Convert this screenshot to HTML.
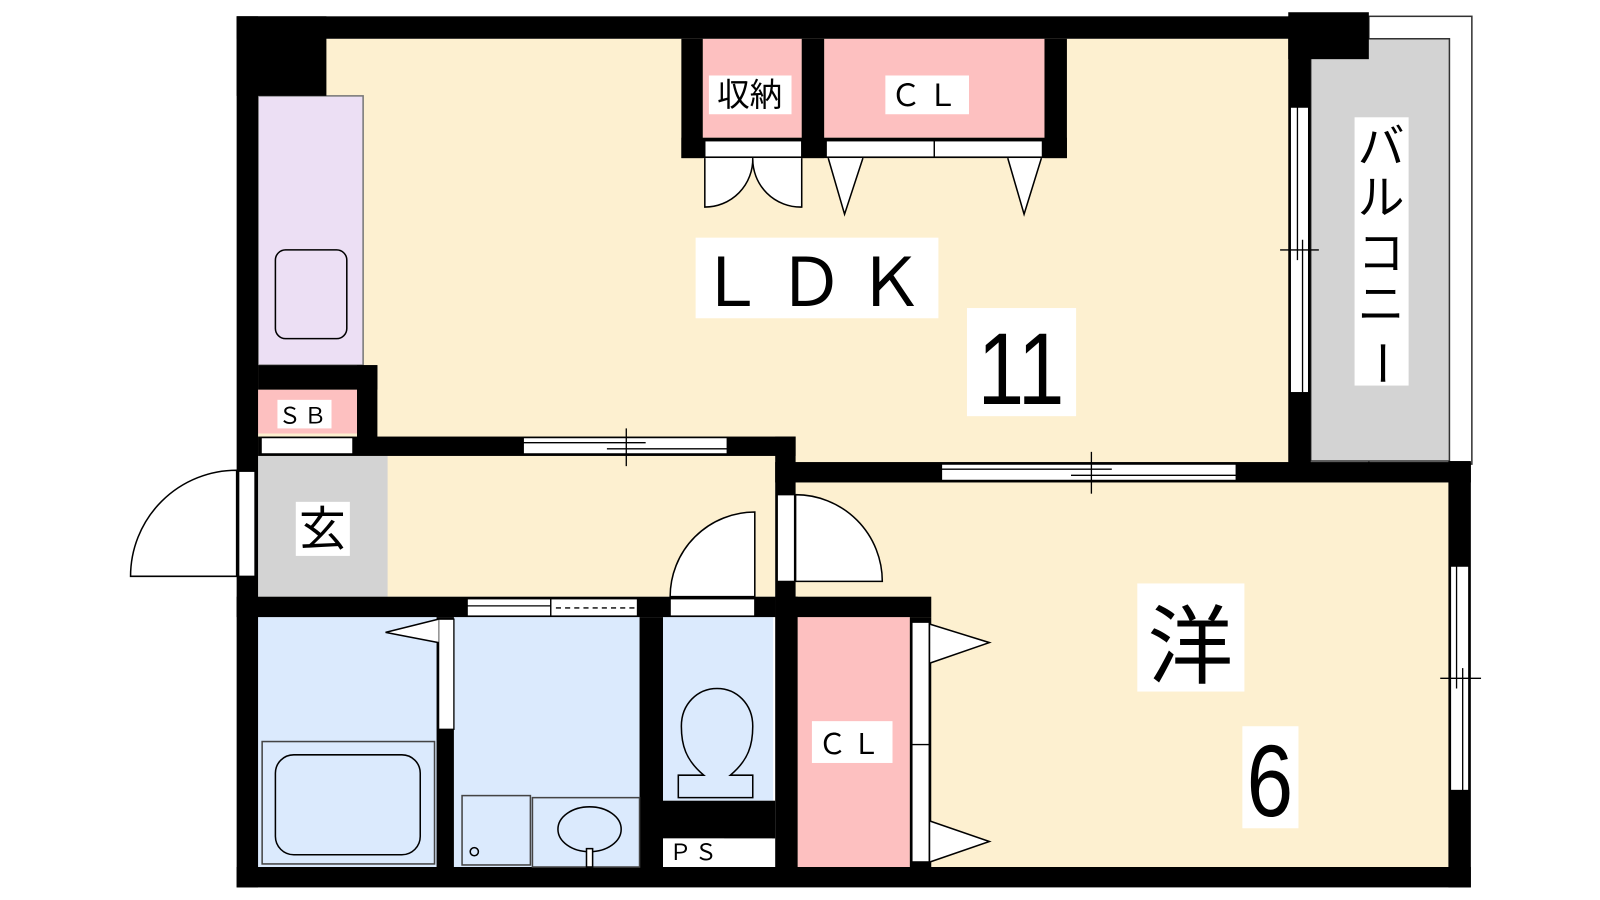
<!DOCTYPE html>
<html><head><meta charset="utf-8"><style>
html,body{margin:0;padding:0;background:#fff;width:1600px;height:900px;overflow:hidden}
svg{display:block}
text{font-family:"Liberation Sans","Noto Sans CJK JP",sans-serif;fill:#000}
</style></head><body>
<svg width="1600" height="900" viewBox="0 0 1600 900" xmlns="http://www.w3.org/2000/svg">
<g transform="scale(1.02)">
<!-- floors -->
<rect x="253" y="38" width="1012" height="417" fill="#fdf0d0"/>
<rect x="253" y="447" width="507" height="138" fill="#fdf0d0"/>
<rect x="253" y="447" width="127" height="138" fill="#d3d3d3"/>
<rect x="780" y="473" width="640" height="377" fill="#fdf0d0"/>
<!-- balcony -->
<rect x="1342" y="16" width="101" height="439" fill="#fff" stroke="#333" stroke-width="1.5"/>
<rect x="1285" y="38" width="136" height="414" fill="#d3d3d3" stroke="#333" stroke-width="1.5"/>
<!-- kitchen -->
<rect x="253" y="94" width="103" height="264" fill="#ecdff4" stroke="#777" stroke-width="1.5"/>
<rect x="270" y="245" width="70" height="87" rx="10" fill="none" stroke="#000" stroke-width="1.5"/>
<!-- pink storages -->
<rect x="253" y="382" width="97" height="43" fill="#fdc0c0"/>
<rect x="689" y="38" width="97" height="97" fill="#fdc0c0"/>
<rect x="808" y="38" width="216" height="97" fill="#fdc0c0"/>
<rect x="782" y="605" width="110" height="245" fill="#fdc0c0"/>
<!-- wet rooms -->
<rect x="253" y="605" width="175" height="245" fill="#dbeafd"/>
<rect x="445" y="605" width="182" height="245" fill="#dbeafd"/>
<rect x="650" y="605" width="108" height="180" fill="#dbeafd"/>
<!-- walls -->
<g fill="#000">
<rect x="232" y="16" width="1033" height="22"/>
<rect x="232" y="16" width="88" height="78"/>
<rect x="232" y="16" width="21" height="854"/>
<rect x="232" y="850" width="1210" height="20"/>
<rect x="1420" y="452" width="22" height="418"/>
<rect x="1263" y="16" width="22" height="439"/>
<rect x="1263" y="12" width="79" height="46"/>
<rect x="253" y="358" width="117" height="24"/>
<rect x="350" y="358" width="20" height="87"/>
<rect x="253" y="428" width="527" height="19"/>
<rect x="760" y="428" width="20" height="177"/>
<rect x="760" y="453" width="682" height="20"/>
<rect x="668" y="38" width="21" height="117"/>
<rect x="786" y="38" width="22" height="117"/>
<rect x="1024" y="38" width="22" height="117"/>
<rect x="668" y="135" width="378" height="20"/>
<rect x="232" y="585" width="528" height="20"/>
<rect x="428" y="605" width="17" height="245"/>
<rect x="627" y="605" width="23" height="245"/>
<rect x="650" y="785" width="110" height="37"/>
<rect x="760" y="585" width="22" height="265"/>
<rect x="760" y="585" width="153" height="20"/>
<rect x="892" y="605" width="21" height="245"/>
</g>
<!-- windows/door strips -->
<g fill="#fff" stroke="#000" stroke-width="1.3">
<rect x="256" y="429" width="90" height="16"/>
<rect x="513" y="429" width="200" height="16"/>
<rect x="923" y="455" width="289" height="16"/>
<rect x="1265" y="105" width="18" height="280"/>
<rect x="1422" y="555" width="18" height="220"/>
<rect x="234" y="462" width="16" height="103"/>
<rect x="762" y="485" width="17" height="85"/>
<rect x="691" y="138" width="95" height="16"/>
<rect x="810" y="138" width="106" height="16"/>
<rect x="916" y="138" width="106" height="16"/>
<rect x="458" y="587" width="82" height="17"/>
<rect x="540" y="587" width="85" height="17"/>
<rect x="657" y="587" width="83" height="17"/>
<rect x="430" y="607" width="15" height="108"/>
<rect x="894" y="610" width="17" height="120"/>
<rect x="894" y="730" width="17" height="115"/>
</g>
<g stroke="#000" stroke-width="1.3" fill="none">
<line x1="513" y1="434" x2="633" y2="434"/><line x1="595" y1="440" x2="713" y2="440"/><line x1="614" y1="420" x2="614" y2="457"/>
<line x1="923" y1="460" x2="1090" y2="460"/><line x1="1050" y1="466" x2="1212" y2="466"/><line x1="1070" y1="443" x2="1070" y2="484"/>
<line x1="1272" y1="105" x2="1272" y2="255"/><line x1="1277" y1="235" x2="1277" y2="385"/><line x1="1255" y1="245" x2="1293" y2="245"/>
<line x1="1428" y1="555" x2="1428" y2="675"/><line x1="1434" y1="655" x2="1434" y2="775"/><line x1="1412" y1="665" x2="1452" y2="665"/>
<line x1="458" y1="594" x2="540" y2="594"/><line x1="545" y1="596" x2="625" y2="596" stroke-dasharray="5,4"/>
</g>
<!-- doors -->
<g fill="#fff" stroke="#000" stroke-width="1.5">
<path d="M232,461 A104,104 0 0 0 128,565 L232,565 Z"/>
<path d="M780,485 A85,85 0 0 1 865,570 L780,570 Z"/>
<path d="M740,502 A83,83 0 0 0 657,585 L740,585 Z"/>
<path d="M691,155 L691,203 A47,47 0 0 0 738,155"/>
<path d="M786,155 L786,203 A47,47 0 0 1 738,155"/>
<path d="M812,155 L828,210 L846,155"/>
<path d="M988,155 L1004,210 L1021,155"/>
<path d="M430,607 L378,620 L430,630"/>
<path d="M912,612 L970,630 L912,650"/>
<path d="M912,805 L970,825 L912,845"/>
</g>
<!-- fixtures -->
<g fill="none" stroke="#000" stroke-width="1.5">
<rect x="257" y="727" width="169" height="120" stroke="#444"/>
<rect x="270" y="740" width="142" height="98" rx="18"/>
<rect x="453" y="780" width="67" height="68" stroke="#444"/>
<circle cx="465" cy="835" r="4"/>
<rect x="522" y="782" width="105" height="68" stroke="#444"/>
<ellipse cx="578" cy="813" rx="31" ry="22" fill="#dbeafd"/>
<rect x="575" y="832" width="6" height="18" fill="#fff"/>
<path d="M690,760 C672,745 668,730 668,712 C668,690 684,675 703,675 C722,675 738,690 738,712 C738,730 734,745 716,760 L738,760 L738,782 L665,782 L665,760 Z" fill="#dbeafd"/>
</g>
<rect x="650" y="822" width="107" height="22" fill="#fff"/>
<rect x="650" y="822" width="60" height="28" fill="#fff"/>
<!-- labels -->
<g fill="#fff">
<rect x="695" y="74" width="81" height="38"/>
<rect x="868" y="74" width="82" height="38"/>
<rect x="682" y="233" width="238" height="79"/>
<rect x="948" y="302" width="107" height="106"/>
<rect x="1328" y="115" width="53" height="263"/>
<rect x="272" y="392" width="53" height="28"/>
<rect x="290" y="492" width="53" height="53"/>
<rect x="1115" y="572" width="105" height="106"/>
<rect x="1218" y="712" width="55" height="100"/>
<rect x="796" y="707" width="79" height="41"/>
</g>
<text x="735" y="104" font-size="32" text-anchor="middle">収納</text>
<text x="909" y="104" font-size="30" text-anchor="middle" letter-spacing="6">ＣＬ</text>
<text x="801" y="300" font-size="66" text-anchor="middle" letter-spacing="12">ＬＤＫ</text>
<text x="1001" y="396" font-size="100" text-anchor="middle" transform="translate(1001,0) scale(0.82,1) translate(-1001,0)">11</text>
<text x="1354" y="160" font-size="46" text-anchor="middle">バ</text>
<text x="1354" y="210" font-size="46" text-anchor="middle">ル</text>
<text x="1354" y="264" font-size="46" text-anchor="middle">コ</text>
<text x="1354" y="314" font-size="46" text-anchor="middle">ニ</text>
<text x="1354" y="372" font-size="46" text-anchor="middle" transform="rotate(90 1354 356)">ー</text>
<text x="298" y="415" font-size="22" text-anchor="middle" letter-spacing="3">ＳＢ</text>
<text x="316" y="535" font-size="46" text-anchor="middle">玄</text>
<text x="1167" y="663" font-size="84" text-anchor="middle">洋</text>
<text x="1245" y="800" font-size="100" text-anchor="middle" transform="translate(1245,0) scale(0.82,1) translate(-1245,0)">6</text>
<text x="835" y="739" font-size="28" text-anchor="middle" letter-spacing="5">ＣＬ</text>
<text x="681" y="843" font-size="22" text-anchor="middle" letter-spacing="3">ＰＳ</text>
</g>
</svg>
</body></html>
